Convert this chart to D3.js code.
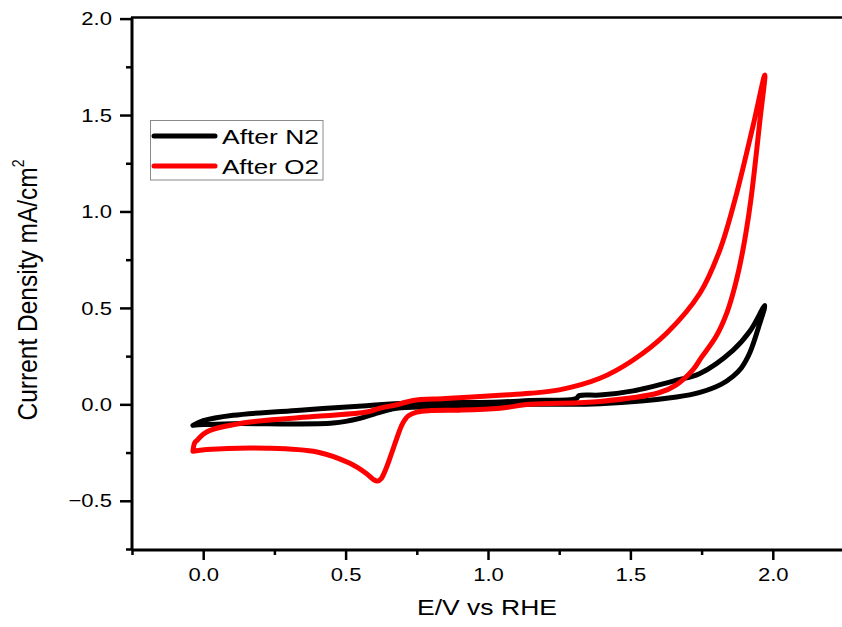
<!DOCTYPE html>
<html><head><meta charset="utf-8">
<script src="https://cdn.jsdelivr.net/npm/d3@7"></script>
<style>body{margin:0;background:#fff}svg{display:block}text{font-family:"Liberation Sans",Arial,sans-serif;fill:#000}</style>
</head><body><svg id="c" width="842" height="627"></svg>
<script>
// Data
const seriesNames = ["After N2", "After O2"];
const n2X = [-0.036,0.0,0.105,0.34,0.574,0.69,1.042,1.147,1.31,1.32,1.393,1.51,1.662,1.744,1.86,1.92,1.972,
             1.95,1.92,1.89,1.86,1.82,1.744,1.662,1.393,1.147,1.042,0.8,0.679,0.6,0.55,0.456,0.105,0.0,-0.036];
const n2Y = [-0.109,-0.085,-0.057,-0.03,-0.007,0.005,0.012,0.02,0.03,0.045,0.048,0.07,0.125,0.16,0.28,0.38,0.512,
             0.40,0.27,0.19,0.145,0.105,0.062,0.038,0.003,0.0,-0.005,-0.012,-0.02,-0.05,-0.073,-0.097,-0.1,-0.105,-0.109];
const o2X = [-0.036,-0.03,-0.022,0.0,0.024,0.164,0.4,0.574,0.62,0.68,0.737,0.85,1.042,1.147,1.25,1.393,1.51,1.628,1.744,1.814,1.867,1.93,1.972,
             1.955,1.922,1.895,1.87,1.84,1.80,1.75,1.72,1.66,1.60,1.393,1.147,1.042,0.9,0.80,0.75,0.72,0.70,0.68,0.66,0.64,0.625,0.612,0.598,0.574,0.515,0.4,0.223,0.012,-0.036];
const o2Y = [-0.243,-0.2,-0.187,-0.155,-0.135,-0.092,-0.062,-0.04,-0.02,-0.002,0.02,0.03,0.047,0.057,0.075,0.135,0.23,0.37,0.576,0.80,1.06,1.44,1.708,
             1.475,1.05,0.80,0.63,0.48,0.35,0.245,0.18,0.10,0.06,0.015,0.0,-0.02,-0.03,-0.032,-0.04,-0.06,-0.10,-0.175,-0.26,-0.34,-0.385,-0.398,-0.39,-0.36,-0.306,-0.247,-0.227,-0.234,-0.243];
const xMajor = [0.0,0.5,1.0,1.5,2.0];
const xMinor = [-0.25,0.25,0.75,1.25,1.75];
const yMajor = [-0.5,0.0,0.5,1.0,1.5,2.0];
const yMinor = [-0.75,-0.25,0.25,0.75,1.25,1.75];
const colors = ["#000000","#ff0000"];

const svg = d3.select("#c");
const x = d3.scaleLinear().domain([-0.25,2.25]).range([132,844]);
const y = d3.scaleLinear().domain([-0.75,2.0]).range([549,18.6]);
const STRETCH = 1.16;

function stretchText(sel, f){
  sel.each(function(){ const n=this; const L=n.getComputedTextLength(); n.setAttribute("textLength", L*f); n.setAttribute("lengthAdjust","spacingAndGlyphs"); });
}

// curves
const line = d3.line().x(d=>x(d[0])).y(d=>y(d[1])).curve(d3.curveCatmullRom.alpha(0.5));
const data = [d3.zip(n2X,n2Y), d3.zip(o2X,o2Y)];
svg.selectAll("path.curve").data(data).join("path").attr("class","curve")
  .attr("d", line).attr("fill","none").attr("stroke",(d,i)=>colors[i])
  .attr("stroke-width",5).attr("stroke-linejoin","round").attr("stroke-linecap","round");

// axes
const gx = svg.append("g").attr("transform","translate(0,550)")
  .call(d3.axisBottom(x).tickValues(xMajor).tickSize(10).tickPadding(8).tickFormat(d3.format(".1f")));
const gxm = svg.append("g").attr("transform","translate(0,550)")
  .call(d3.axisBottom(x).tickValues(xMinor).tickSize(5).tickFormat(""));
const gy = svg.append("g").attr("transform","translate(132,0)")
  .call(d3.axisLeft(y).tickValues(yMajor).tickSize(12).tickPadding(6).tickFormat(d3.format(".1f")));
const gym = svg.append("g").attr("transform","translate(132,0)")
  .call(d3.axisLeft(y).tickValues(yMinor).tickSize(6).tickFormat(""));
[gx,gxm,gy,gym].forEach(g=>{
  g.selectAll(".tick line").attr("stroke","#000").attr("stroke-width",2.5);
  g.selectAll("text").attr("font-size",19).attr("font-family",'"Liberation Sans",Arial,sans-serif').attr("fill","#000");
});
gxm.select(".domain").remove(); gym.select(".domain").remove();
gx.select(".domain").attr("stroke-width",3).attr("d","M132,0H842");
gy.select(".domain").attr("stroke-width",3).attr("d","M0,549.5V17.5");
stretchText(gx.selectAll("text"), STRETCH);
stretchText(gy.selectAll("text"), STRETCH);
gy.selectAll("text").attr("x",-20);

// top frame line
svg.append("line").attr("x1",131).attr("x2",842).attr("y1",17.5).attr("y2",17.5).attr("stroke","#000").attr("stroke-width",2.5);

// axis titles
svg.append("text").attr("x",487).attr("y",615).attr("text-anchor","middle").attr("font-size",22)
  .attr("textLength",140).attr("lengthAdjust","spacingAndGlyphs").text("E/V vs RHE");
const yt = svg.append("text").attr("transform","translate(37,290) rotate(-90) scale(1,1.14)").attr("text-anchor","middle").attr("font-size",24.5);
yt.append("tspan").text("Current Density mA/cm");
yt.append("tspan").attr("font-size",14).attr("dy",-11).text("2");

// legend
const lg = svg.append("g");
lg.append("rect").attr("x",150.5).attr("y",120.5).attr("width",172.5).attr("height",59.5).attr("fill","#fff").attr("stroke","#8a8a8a").attr("stroke-width",1);
seriesNames.forEach((s,i)=>{
  const yy = 136 + i*30;
  lg.append("line").attr("x1",154).attr("x2",215).attr("y1",yy).attr("y2",yy).attr("stroke",colors[i]).attr("stroke-width",5).attr("stroke-linecap","round");
  lg.append("text").attr("x",222).attr("y",yy+7.5).attr("font-size",21).attr("textLength",97).attr("lengthAdjust","spacingAndGlyphs").text(s);
});
</script></body></html>
